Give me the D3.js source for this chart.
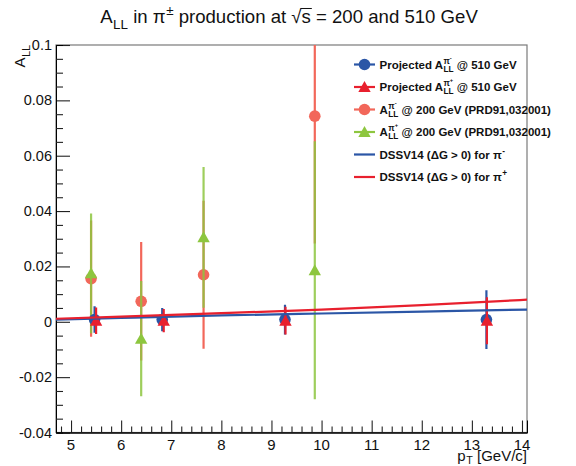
<!DOCTYPE html>
<html><head><meta charset="utf-8">
<script src="https://cdn.jsdelivr.net/npm/d3@7"></script>
<style>body{margin:0;background:#fff}svg{display:block}text{white-space:pre}</style>
</head><body>
<svg id="c" width="576" height="466"></svg>
<script>
// ---- data ----
const xTicks = [5,6,7,8,9,10,11,12,13,14];
const yTicks = [-0.04,-0.02,0,0.02,0.04,0.06,0.08,0.1];
const yTickLabels = ["-0.04","-0.02","0","0.02","0.04","0.06","0.08","0.1"];

const pt510m = [5.47, 6.82, 9.27, 13.29];
const all510m = [0.0008, 0.0008, 0.0008, 0.0008];
const err510m = [0.0048, 0.0042, 0.0054, 0.0106];

const pt510p = [5.50, 6.85, 9.28, 13.30];
const all510p = [0.0004, 0.0004, 0.0004, 0.0004];
const err510p = [0.0048, 0.0042, 0.005, 0.0085];

const pt200m = [5.40, 6.40, 7.645, 9.865];
const all200m = [0.0156, 0.0074, 0.0170, 0.0743];
const err200m = [0.0210, 0.0214, 0.0267, 0.046];

const pt200p = [5.40, 6.40, 7.645, 9.865];
const all200p = [0.0175, -0.0061, 0.0305, 0.0186];
const err200p = [0.0216, 0.0208, 0.0254, 0.0466];

const dssvPt = [4.7, 6, 8, 10, 12, 14.1];
const dssvPim = [0.0008, 0.0014, 0.0023, 0.0030, 0.0037, 0.0044];
const dssvPip = [0.0011, 0.0019, 0.0031, 0.0044, 0.0060, 0.0080];

// ---- colours ----
const cBlue = "#2b56a6", cRed = "#e8202e", cOrange = "#f2675a", cGreen = "#8dc63f";

const svg = d3.select("#c");
const FONT = "'Liberation Sans', Arial, Helvetica, sans-serif";
const L = 56, R = 527, T = 45, B = 432.5;
const x = d3.scaleLinear().domain([4.7, 14.1]).range([L, R]);
const y = d3.scaleLinear().domain([-0.04, 0.1]).range([B, T]);

svg.append("defs").append("clipPath").attr("id","clip")
  .append("rect").attr("x",L).attr("y",T).attr("width",R-L).attr("height",B-T);

// frame
svg.append("rect").attr("x",L).attr("y",T).attr("width",R-L).attr("height",B-T)
  .attr("fill","none").attr("stroke","#7a7a7a").attr("stroke-width",1.2);

// axes (ROOT-like: ticks inside)
const xAxis = d3.axisTop(x).tickValues(xTicks).tickSize(12).tickFormat("");
const xMinor = d3.axisTop(x).tickValues(d3.range(4.8, 14.1, 0.2).filter(v=>Math.abs(v-Math.round(v))>0.01)).tickSize(6).tickFormat("");
const gx = svg.append("g").attr("transform",`translate(0,${B})`);
gx.call(xAxis); gx.append("g").call(xMinor);
gx.selectAll(".domain").attr("stroke","#000");
gx.selectAll("line").attr("stroke","#222").attr("stroke-width",1.1);

const yAxis = d3.axisRight(y).tickValues(yTicks).tickSize(14).tickFormat("");
const yMinorV = d3.range(-0.04, 0.1001, 0.005).filter(v=>Math.abs(v/0.02-Math.round(v/0.02))>0.01);
const yMinor = d3.axisRight(y).tickValues(yMinorV).tickSize(7).tickFormat("");
const gy = svg.append("g").attr("transform",`translate(${L},0)`);
gy.call(yAxis); gy.append("g").call(yMinor);
gy.selectAll(".domain").attr("stroke","#000");
gy.selectAll("line").attr("stroke","#222").attr("stroke-width",1.1);

// tick labels
svg.append("g").selectAll("text").data(xTicks).join("text")
  .attr("x",d=>x(d)).attr("y",450).attr("text-anchor","middle")
  .attr("font-family",FONT).attr("font-size",15).attr("fill","#111").text(d=>d);
svg.append("g").selectAll("text").data(yTicks).join("text")
  .attr("x",52).attr("y",d=>y(d)+5).attr("text-anchor","end")
  .attr("font-family",FONT).attr("font-size",14.5).attr("fill","#111").text((d,i)=>yTickLabels[i]);

// rich text helper
function rich(g, x0, y0, parts, fs, weight, anchor, color, subDy){
  const grp = g.append("g");
  let cx = 0;
  const mk = (t, dx, dy, size) => {
    const el = grp.append("text").attr("x",cx+dx).attr("y",dy)
      .attr("xml:space","preserve").style("white-space","pre")
      .attr("font-family",FONT).attr("font-size",size).attr("font-weight",weight)
      .attr("fill",color||"#111").text(t);
    return el;
  };
  parts.forEach(p=>{
    if (p.t !== undefined){
      const el = mk(p.t, 0, 0, fs);
      const w = el.node().getComputedTextLength();
      if (p.over){
        grp.append("line").attr("x1",cx-1).attr("x2",cx+w+1).attr("y1",-fs*0.78).attr("y2",-fs*0.78)
          .attr("stroke",color||"#111").attr("stroke-width",1);
      }
      cx += w;
    } else {
      let w = 0;
      if (p.sup !== undefined){
        const e1 = mk(p.sup, 0.5, -fs*0.42, fs*0.72);
        let w1 = e1.node().getComputedTextLength();
        if (p.sup2 !== undefined){
          const e2 = mk(p.sup2, w1+0.5, -fs*0.78, fs*0.5);
          w1 += e2.node().getComputedTextLength();
        }
        w = Math.max(w, w1+0.5);
      }
      if (p.sub !== undefined){
        const e3 = mk(p.sub, 0.5, fs*(subDy===undefined?0.3:subDy), fs*0.72);
        w = Math.max(w, e3.node().getComputedTextLength()+0.5);
      }
      cx += w;
    }
  });
  let sx = x0;
  if (anchor === "middle") sx = x0 - cx/2;
  else if (anchor === "end") sx = x0 - cx;
  grp.attr("transform",`translate(${sx},${y0})`);
  return grp;
}

// title
rich(svg, 289, 23, [{t:"A"},{sub:"LL"},{t:" in π"},{sup:"±"},{t:" production at "},{t:"√"},{t:"s",over:true},{t:" = 200 and 510 GeV"}], 18.6, "normal", "middle");

// axis titles
rich(svg, R, 460.5, [{t:"p"},{sub:"T"},{t:" [GeV/c]"}], 15, "normal", "end", "#111", 0.2);
const yt = rich(svg, 0, 0, [{t:"A"},{sub:"LL"}], 15, "normal", "start");
{
  const bb = yt.node().getBBox();
  yt.attr("transform",`translate(25,${T + bb.width}) rotate(-90)`);
}

// plot area
const plot = svg.append("g").attr("clip-path","url(#clip)");

function errBars(pts, vals, errs, color, opacity){
  plot.append("g").selectAll("line").data(pts).join("line")
    .attr("x1",d=>x(d)).attr("x2",d=>x(d))
    .attr("y1",(d,i)=>y(vals[i]-errs[i])).attr("y2",(d,i)=>y(vals[i]+errs[i]))
    .attr("stroke",color).attr("stroke-width",2.2).attr("stroke-opacity",opacity);
}
const triPath = "M0,-6 L6.2,5 L-6.2,5 Z";
function circles(pts, vals, color){
  plot.append("g").selectAll("circle").data(pts).join("circle")
    .attr("cx",d=>x(d)).attr("cy",(d,i)=>y(vals[i])).attr("r",5.8).attr("fill",color);
}
function tris(pts, vals, color, opacity){
  plot.append("g").selectAll("path").data(pts).join("path")
    .attr("d",triPath).attr("transform",(d,i)=>`translate(${x(d)},${y(vals[i])})`)
    .attr("fill",color).attr("fill-opacity",opacity);
}

// 200 GeV data
errBars(pt200m, all200m, err200m, cOrange, 1);
circles(pt200m, all200m, cOrange);
errBars(pt200p, all200p, err200p, cGreen, 0.85);
tris(pt200p, all200p, cGreen, 1);

// projected 510 GeV
errBars(pt510m, all510m, err510m, cBlue, 1);
circles(pt510m, all510m, cBlue);
errBars(pt510p, all510p, err510p, cRed, 1);
tris(pt510p, all510p, cRed, 1);

// DSSV curves
const line = d3.line().x(d=>x(d[0])).y(d=>y(d[1])).curve(d3.curveMonotoneX);
plot.append("path").attr("d",line(dssvPt.map((p,i)=>[p,dssvPim[i]])))
  .attr("fill","none").attr("stroke",cBlue).attr("stroke-width",2.2);
plot.append("path").attr("d",line(dssvPt.map((p,i)=>[p,dssvPip[i]])))
  .attr("fill","none").attr("stroke",cRed).attr("stroke-width",2.2);

// legend
const legRows = [
  {type:"circle", color:cBlue, parts:[{t:"Projected A"},{sup:"π",sup2:"-",sub:"LL"},{t:" @ 510 GeV"}]},
  {type:"tri", color:cRed, parts:[{t:"Projected A"},{sup:"π",sup2:"+",sub:"LL"},{t:" @ 510 GeV"}]},
  {type:"circle", color:cOrange, parts:[{t:"A"},{sup:"π",sup2:"-",sub:"LL"},{t:" @ 200 GeV (PRD91,032001)"}]},
  {type:"tri", color:cGreen, parts:[{t:"A"},{sup:"π",sup2:"+",sub:"LL"},{t:" @ 200 GeV (PRD91,032001)"}]},
  {type:"line", color:cBlue, parts:[{t:"DSSV14 (ΔG > 0) for π"},{sup:"-"}]},
  {type:"line", color:cRed, parts:[{t:"DSSV14 (ΔG > 0) for π"},{sup:"+"}]}
];
const leg = svg.append("g");
legRows.forEach((r,i)=>{
  const cy = 64.5 + i*22.5;
  leg.append("line").attr("x1",354).attr("x2",375).attr("y1",cy).attr("y2",cy)
    .attr("stroke",r.color).attr("stroke-width",2.2);
  if (r.type==="circle") leg.append("circle").attr("cx",364.5).attr("cy",cy).attr("r",5.8).attr("fill",r.color);
  if (r.type==="tri") leg.append("path").attr("d",triPath).attr("transform",`translate(364.5,${cy})`).attr("fill",r.color);
  rich(leg, 379.5, cy+4, r.parts, 11.5, "bold", "start", "#111");
});
</script>
</body></html>
